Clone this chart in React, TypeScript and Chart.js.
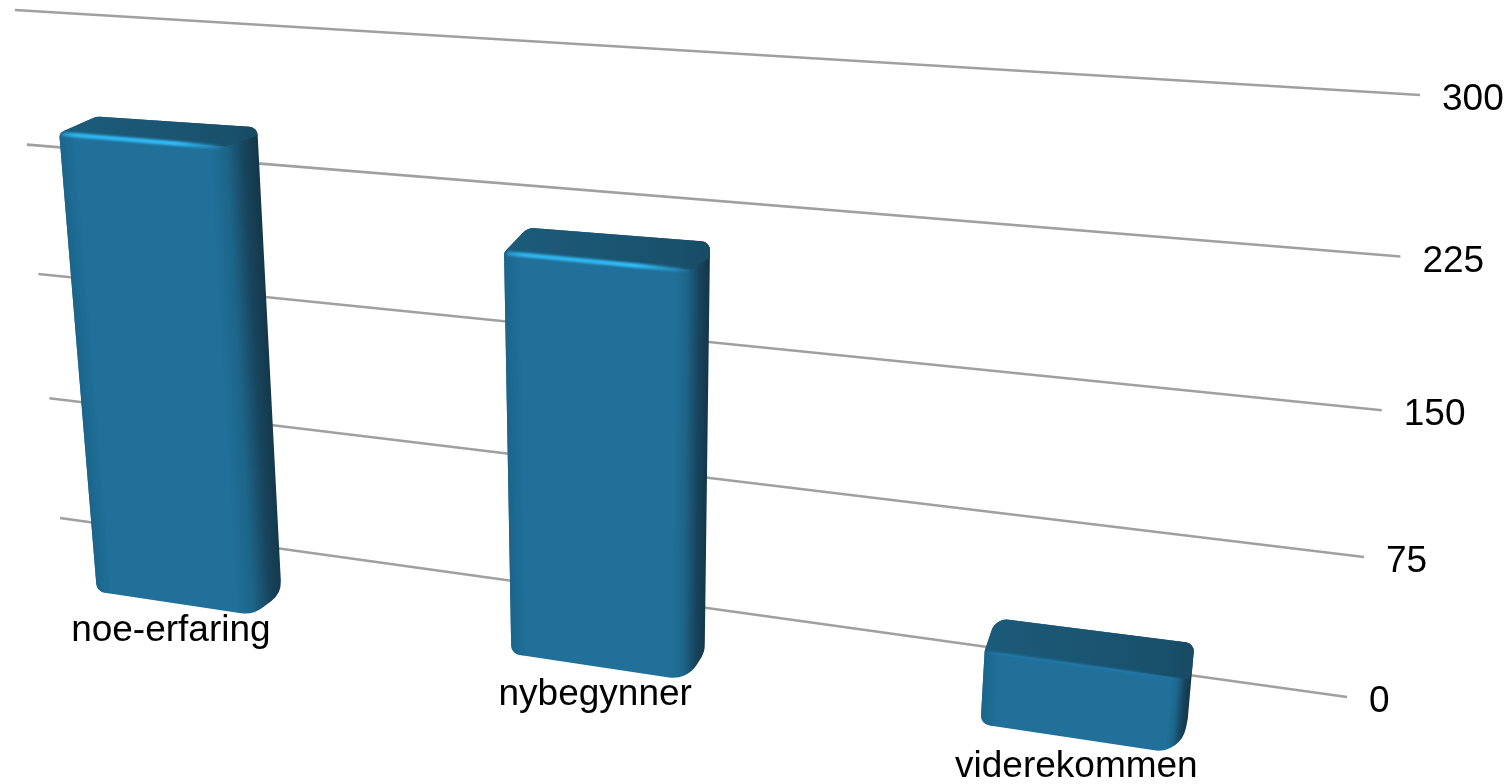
import React, { useEffect, useRef } from "react";
import { Chart, registerables } from "chart.js";

Chart.register(...registerables);

const categories = ["noe-erfaring", "nybegynner", "viderekommen"];
const seriesValues = [242, 203, 37];
const axisMin = 0;
const axisMax = 300;
const axisStep = 75;

type Pt = [number, number];
type Corners = [Pt, Pt, Pt, Pt];

// Unit-square (u, v) -> screen homography. Corners: (0,0), (1,0), (0,1), (1,1)
function homography([p00, p10, p01, p11]: Corners) {
  const dx1 = p10[0] - p11[0], dx2 = p01[0] - p11[0], sx = p00[0] - p10[0] + p11[0] - p01[0];
  const dy1 = p10[1] - p11[1], dy2 = p01[1] - p11[1], sy = p00[1] - p10[1] + p11[1] - p01[1];
  const det = dx1 * dy2 - dx2 * dy1;
  const g = (sx * dy2 - dx2 * sy) / det;
  const h = (dx1 * sy - sx * dy1) / det;
  const a = p10[0] - p00[0] + g * p10[0];
  const b = p01[0] - p00[0] + h * p01[0];
  const d = p10[1] - p00[1] + g * p10[1];
  const e = p01[1] - p00[1] + h * p01[1];
  return (u: number, v: number): Pt => {
    const w = g * u + h * v + 1;
    return [(a * u + b * v + p00[0]) / w, (d * u + e * v + p00[1]) / w];
  };
}

const wall = homography([[60, 518], [1347, 697], [15, 10], [1420, 95]]);
const front = homography([[-20, 574], [1345, 779], [-77, 5], [1423, 101]]);
const back = homography([[17, 557], [1349, 741], [-35, -8], [1427, 60]]);

function roundPoly(ctx: CanvasRenderingContext2D, pts: Pt[], radii: number[]) {
  const n = pts.length;
  const last = pts[n - 1], first = pts[0];
  ctx.beginPath();
  ctx.moveTo((last[0] + first[0]) / 2, (last[1] + first[1]) / 2);
  for (let i = 0; i < n; i++) {
    const p = pts[i], q = pts[(i + 1) % n];
    ctx.arcTo(p[0], p[1], (p[0] + q[0]) / 2, (p[1] + q[1]) / 2, radii[i]);
  }
  ctx.closePath();
}

function drawBar(ctx: CanvasRenderingContext2D, u0: number, u1: number, v: number) {
  const fTL = front(u0, v), fTR = front(u1, v), fBR = front(u1, 0), fBL = front(u0, 0);
  const bTL = back(u0, v), bTR = back(u1, v), bBR = back(u1, 0);
  const hull: Pt[] = [fTL, bTL, bTR, bBR, fBR, fBL];

  const ex = fBR[0] - fTR[0], ey = fBR[1] - fTR[1];
  const len = Math.hypot(ex, ey);
  const nx = ey / len, ny = -ex / len;
  const sideW = Math.max(2, (bTR[0] - fTR[0]) * nx + (bTR[1] - fTR[1]) * ny);
  const sideGrad = ctx.createLinearGradient(
    fTR[0] - nx * 16, fTR[1] - ny * 16,
    fTR[0] + nx * sideW, fTR[1] + ny * sideW
  );
  sideGrad.addColorStop(0, "#20709a");
  sideGrad.addColorStop(0.35, "#1d6488");
  sideGrad.addColorStop(0.7, "#17445c");
  sideGrad.addColorStop(1, "#143648");

  ctx.save();
  roundPoly(ctx, hull, [7, 16, 9, 24, 28, 10]);
  ctx.fillStyle = sideGrad;
  ctx.fill();
  ctx.clip();

  // soft shading along the left edge of the front face
  const lx = fBL[0] - fTL[0], ly = fBL[1] - fTL[1];
  const ll = Math.hypot(lx, ly);
  const mx = ly / ll, my = -lx / ll;
  const leftGrad = ctx.createLinearGradient(
    fTL[0], fTL[1], fTL[0] + mx * 16, fTL[1] + my * 16
  );
  leftGrad.addColorStop(0, "rgba(27,101,140,1)");
  leftGrad.addColorStop(1, "rgba(27,101,140,0)");
  ctx.beginPath();
  ctx.moveTo(fTL[0] - 20, fTL[1]);
  ctx.lineTo(fTL[0] + mx * 16, fTL[1] + my * 16);
  ctx.lineTo(fBL[0] + mx * 16, fBL[1] + my * 16 + 30);
  ctx.lineTo(fBL[0] - 20, fBL[1] + 30);
  ctx.closePath();
  ctx.fillStyle = leftGrad;
  ctx.fill();

  // top face
  const topGrad = ctx.createLinearGradient(bTL[0], 0, bTR[0], 0);
  topGrad.addColorStop(0, "#1c5a79");
  topGrad.addColorStop(0.85, "#19506b");
  topGrad.addColorStop(1, "#184a63");
  ctx.beginPath();
  ctx.moveTo(fTL[0] - 4, fTL[1]);
  ctx.lineTo(bTL[0] - 20, bTL[1] - 20);
  ctx.lineTo(bTR[0] + 20, bTR[1] - 20);
  ctx.lineTo(bTR[0] + 20, bTR[1] + 2);
  ctx.lineTo(fTR[0], fTR[1]);
  ctx.closePath();
  ctx.fillStyle = topGrad;
  ctx.fill();

  // highlight along the front top edge
  const strength = Math.min(1, (fBL[1] - fTL[1]) / 200);
  const hi = ctx.createLinearGradient(fTL[0], fTL[1], fTR[0], fTR[1]);
  const bright = strength > 0.5 ? "48,190,248" : "34,125,175";
  hi.addColorStop(0, `rgba(${bright},0.4)`);
  hi.addColorStop(0.1, `rgba(${bright},0.9)`);
  hi.addColorStop(0.7, `rgba(${bright},1)`);
  hi.addColorStop(0.92, `rgba(${bright},0.3)`);
  hi.addColorStop(1, `rgba(${bright},0)`);
  ctx.filter = "blur(0.9px)";
  ctx.beginPath();
  ctx.moveTo(fTL[0] + 3, fTL[1] + 1);
  ctx.lineTo(fTR[0], fTR[1] + 1);
  ctx.strokeStyle = hi;
  ctx.lineWidth = strength > 0.5 ? 4.5 : 2;
  ctx.stroke();
  ctx.restore();
}

const perspectivePlugin = {
  id: "perspective",
  beforeDatasetsDraw(chart: any) {
    const { ctx, chartArea, scales } = chart;
    const { left, bottom, width, height } = chartArea;
    const toV = (px: number) => (bottom - px) / height;
    const toU = (px: number) => (px - left) / width;

    // gridlines and value labels
    ctx.save();
    ctx.font = '37px "Liberation Sans", Arial, sans-serif';
    ctx.fillStyle = "#000000";
    ctx.textBaseline = "middle";
    ctx.textAlign = "left";
    for (const tick of scales.y.ticks) {
      const v = toV(scales.y.getPixelForValue(tick.value));
      const a = wall(0, v), b = wall(1, v);
      ctx.beginPath();
      ctx.moveTo(a[0], a[1]);
      ctx.lineTo(b[0], b[1]);
      ctx.strokeStyle = "#a0a0a0";
      ctx.lineWidth = 2.6;
      ctx.stroke();
      ctx.fillText(String(tick.value), b[0] + 22, b[1] + 5);
    }

    // bars and category labels
    const meta = chart.getDatasetMeta(0);
    const labels = scales.x.getLabels();
    ctx.textAlign = "center";
    ctx.textBaseline = "alphabetic";
    meta.data.forEach((bar: any, i: number) => {
      const p = bar.getProps(["x", "y", "width"], true);
      const u0 = toU(p.x - p.width / 2), u1 = toU(p.x + p.width / 2);
      const v = toV(p.y);
      drawBar(ctx, u0, u1, v);
      const c = front((u0 + u1) / 2, 0);
      ctx.fillStyle = "#000000";
      ctx.fillText(labels[i], c[0] - 3, c[1] + 38);
    });
    ctx.restore();
    return false;
  },
};

export default function App() {
  const ref = useRef<HTMLCanvasElement>(null);
  useEffect(() => {
    document.body.style.margin = "0";
    document.body.style.background = "#ffffff";
    const chart = new Chart(ref.current!, {
      type: "bar",
      data: {
        labels: categories,
        datasets: [
          { data: seriesValues, backgroundColor: "#20709a", categoryPercentage: 1, barPercentage: 0.39 },
        ],
      },
      options: {
        responsive: false,
        animation: false,
        layout: { padding: 0 },
        plugins: { legend: { display: false }, tooltip: { enabled: false }, title: { display: false } },
        scales: {
          x: { display: false, offset: true },
          y: { display: false, min: axisMin, max: axisMax, ticks: { stepSize: axisStep } },
        },
      },
      plugins: [perspectivePlugin],
    } as any);
    return () => chart.destroy();
  }, []);
  return <canvas ref={ref} width={1511} height={784} style={{ display: "block" }} />;
}
